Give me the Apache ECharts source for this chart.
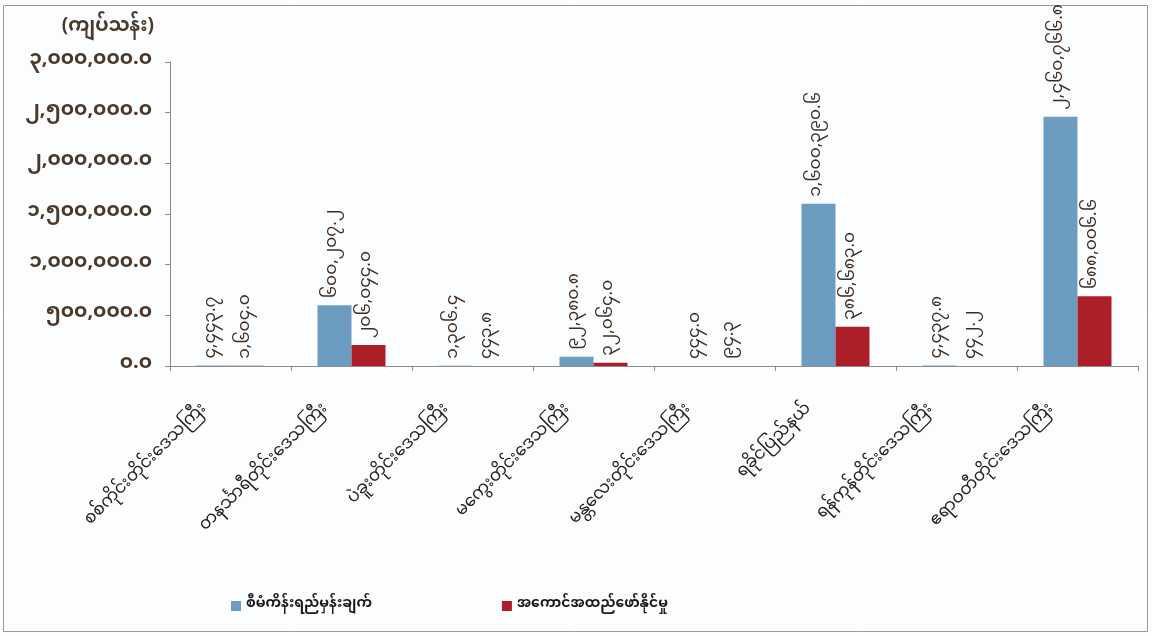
<!DOCTYPE html>
<html>
<head>
<meta charset="utf-8">
<script src="https://cdn.jsdelivr.net/npm/echarts@6/dist/echarts.min.js"></script>
<style>
html,body{margin:0;padding:0;background:#ffffff;}
#chart{width:1152px;height:636px;}
</style>
</head>
<body>
<div id="chart"></div>
<script>
// ---- data ----
const categories = [
  'စစ်ကိုင်းတိုင်းဒေသကြီး',
  'တနင်္သာရီတိုင်းဒေသကြီး',
  'ပဲခူးတိုင်းဒေသကြီး',
  'မကွေးတိုင်းဒေသကြီး',
  'မန္တလေးတိုင်းဒေသကြီး',
  'ရခိုင်ပြည်နယ်',
  'ရန်ကုန်တိုင်းဒေသကြီး',
  'ဧရာဝတီတိုင်းဒေသကြီး'
];
const planValues = [4443.7, 600207.2, 1306.4, 92380.8, 444.0, 1600390.6, 4437.8, 2460766.8];
const actualValues = [1604.0, 206044.0, 443.8, 32064.0, 94.3, 386683.0, 442.2, 688006.6];
const seriesNames = ['စီမံကိန်းရည်မှန်းချက်', 'အကောင်အထည်ဖော်နိုင်မှု'];
const yAxisName = '(ကျပ်သန်း)';
const yMin = 0, yMax = 3000000, yStep = 500000;

// ---- helpers ----
const FONT = '"Noto Sans Myanmar","Padauk","Myanmar Text","Noto Sans","DejaVu Sans",sans-serif';
function toMyanmarDigits(s){
  return s.replace(/[0-9]/g, d => String.fromCharCode(0x1040 + Number(d)));
}
function fmt(v){
  const parts = Number(v).toFixed(1).split('.');
  parts[0] = parts[0].replace(/\B(?=(\d{3})+(?!\d))/g, ',');
  return toMyanmarDigits(parts.join('.'));
}

const chart = echarts.init(document.getElementById('chart'), null, {renderer:'canvas'});
const labelCfg = {
  show: true,
  position: 'top',
  rotate: 90,
  align: 'left',
  verticalAlign: 'middle',
  distance: 7,
  color: '#3d2e22',
  fontSize: 17,
  fontFamily: FONT,
  formatter: p => fmt(p.value)
};
chart.setOption({
  backgroundColor: '#fcfdff',
  animation: false,
  graphic: [{
    type: 'rect',
    shape: {x: 3.5, y: 5.5, width: 1144, height: 626},
    style: {fill: 'none', stroke: '#9a9a9a', lineWidth: 1},
    silent: true
  }],
  grid: {left: 170, right: 14, top: 62, bottom: 270, containLabel: false},
  legend: {
    left: 226, top: 594,
    itemWidth: 10, itemHeight: 10, itemGap: 130,
    icon: 'rect',
    textStyle: {fontSize: 14, fontWeight: 'bold', color: '#1a1a1a', fontFamily: FONT},
    data: seriesNames
  },
  xAxis: {
    type: 'category',
    data: categories,
    axisLine: {lineStyle: {color: '#8c8c8c'}},
    axisTick: {show: true, length: 5, lineStyle: {color: '#8c8c8c'}},
    axisLabel: {
      interval: 0, rotate: 45, margin: 16,
      padding: [0, 36, 0, 0],
      fontSize: 17, color: '#222', fontFamily: FONT
    }
  },
  yAxis: {
    type: 'value',
    min: yMin, max: yMax, interval: yStep,
    name: yAxisName,
    nameLocation: 'end',
    nameGap: 24,
    nameTextStyle: {align: 'right', padding: [0, 16, 0, 0], fontSize: 19, fontWeight: 'bold', color: '#4a3a2a', fontFamily: FONT},
    axisLine: {show: true, lineStyle: {color: '#8c8c8c'}},
    axisTick: {show: true, length: 5, lineStyle: {color: '#8c8c8c'}},
    splitLine: {show: false},
    axisLabel: {
      margin: 18, fontSize: 20, fontWeight: 'bold', color: '#4a3a2a', fontFamily: FONT,
      formatter: v => fmt(v)
    }
  },
  series: [
    {name: seriesNames[0], type: 'bar', data: planValues, barWidth: 34, barGap: '0%',
     itemStyle: {color: '#6c9dc1'}, label: labelCfg},
    {name: seriesNames[1], type: 'bar', data: actualValues, barWidth: 34, barGap: '0%',
     itemStyle: {color: '#ad1f28'}, label: labelCfg}
  ]
});
</script>
</body>
</html>
